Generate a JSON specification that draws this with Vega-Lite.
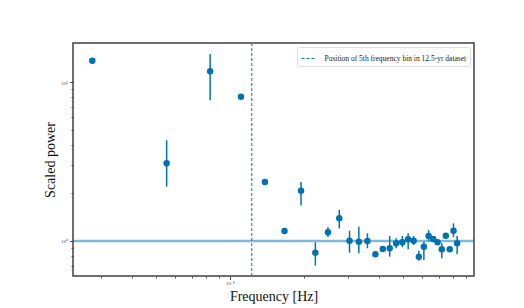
{
  "$schema": "https://vega.github.io/schema/vega-lite/v6.json",
  "autosize": {"type": "none"},
  "padding": {"left": 73, "top": 43, "right": 50, "bottom": 32},
  "width": 401,
  "height": 233,
  "background": "white",
  "config": {
    "view": {"stroke": "#404040", "strokeWidth": 1.5},
    "axis": {"labelFont": "Liberation Serif", "titleFont": "Liberation Serif", "grid": false, "domain": false, "tickColor": "#333", "labelColor": "#444", "titleColor": "#111", "titleFontWeight": "normal"},
    "legend": {"labelFont": "Liberation Serif"}
  },
  "datasets": {
    "pts": [
      {"f": 2.77e-9, "p": 13.6, "lo": 13.3, "hi": 13.9},
      {"f": 5.54e-9, "p": 3.08, "lo": 2.2, "hi": 4.3},
      {"f": 8.31e-9, "p": 11.7, "lo": 7.67, "hi": 15.0},
      {"f": 1.108e-8, "p": 8.09, "lo": 7.9, "hi": 8.3},
      {"f": 1.385e-8, "p": 2.35, "lo": 2.3, "hi": 2.4},
      {"f": 1.662e-8, "p": 1.156, "lo": 1.12, "hi": 1.19},
      {"f": 1.939e-8, "p": 2.07, "lo": 1.68, "hi": 2.35},
      {"f": 2.216e-8, "p": 0.844, "lo": 0.7, "hi": 0.981},
      {"f": 2.493e-8, "p": 1.134, "lo": 1.06, "hi": 1.22},
      {"f": 2.77e-8, "p": 1.39, "lo": 1.2, "hi": 1.57},
      {"f": 3.047e-8, "p": 1.004, "lo": 0.844, "hi": 1.16},
      {"f": 3.324e-8, "p": 0.99, "lo": 0.837, "hi": 1.23},
      {"f": 3.601e-8, "p": 0.998, "lo": 0.9, "hi": 1.118},
      {"f": 3.878e-8, "p": 0.825, "lo": 0.81, "hi": 0.84},
      {"f": 4.155e-8, "p": 0.891, "lo": 0.87, "hi": 0.91},
      {"f": 4.432e-8, "p": 0.9, "lo": 0.797, "hi": 1.075},
      {"f": 4.709e-8, "p": 0.967, "lo": 0.9, "hi": 1.04},
      {"f": 4.986e-8, "p": 0.981, "lo": 0.913, "hi": 1.075},
      {"f": 5.263e-8, "p": 1.025, "lo": 0.887, "hi": 1.118},
      {"f": 5.54e-8, "p": 1.004, "lo": 0.944, "hi": 1.075},
      {"f": 5.817e-8, "p": 0.797, "lo": 0.752, "hi": 0.869},
      {"f": 6.094e-8, "p": 0.921, "lo": 0.759, "hi": 0.99},
      {"f": 6.371e-8, "p": 1.075, "lo": 1.0, "hi": 1.17},
      {"f": 6.648e-8, "p": 1.03, "lo": 1.0, "hi": 1.06},
      {"f": 6.925e-8, "p": 0.981, "lo": 0.95, "hi": 1.01},
      {"f": 7.202e-8, "p": 0.887, "lo": 0.778, "hi": 0.967},
      {"f": 7.479e-8, "p": 1.08, "lo": 1.05, "hi": 1.11},
      {"f": 7.756e-8, "p": 0.887, "lo": 0.86, "hi": 0.91},
      {"f": 8.033e-8, "p": 1.16, "lo": 1.055, "hi": 1.29},
      {"f": 8.31e-8, "p": 0.967, "lo": 0.825, "hi": 1.075}
    ],
    "vline": [{"f": 1.225e-8, "label": "Position of 5th frequency bin in 12.5-yr dataset"}]
  },
  "resolve": {"axis": {"x": "independent", "y": "independent"}},
  "layer": [
    {
      "data": {"values": [{"one": 1}]},
      "mark": {"type": "rule", "color": "#0072b2", "opacity": 0.5, "strokeWidth": 2.4},
      "encoding": {
        "y": {"field": "one", "type": "quantitative", "scale": {"type": "log", "domain": [0.602, 17.6], "nice": false}, "axis": null}
      }
    },
    {
      "data": {"name": "vline"},
      "mark": {"type": "rule", "strokeDash": [3, 2], "strokeWidth": 1},
      "encoding": {
        "x": {"field": "f", "type": "quantitative", "scale": {"type": "log", "domain": [2.314e-9, 9.725e-8], "nice": false}, "axis": null},
        "color": {"field": "label", "type": "nominal", "scale": {"range": ["#0a75b8"]},
          "legend": {"title": null, "orient": "top-right", "offset": 4, "padding": 3.5, "fillColor": "white", "strokeColor": "#dddddd", "cornerRadius": 2,
            "symbolType": "stroke", "symbolSize": 200, "symbolStrokeWidth": 1.2, "symbolDash": [3, 2], "labelFontSize": 7.5, "labelColor": "#222", "labelOffset": 8}}
      }
    },
    {
      "data": {"name": "pts"},
      "mark": {"type": "rule", "color": "#0072b2", "strokeWidth": 1.5},
      "encoding": {
        "x": {"field": "f", "type": "quantitative", "scale": {"type": "log", "domain": [2.314e-9, 9.725e-8], "nice": false},
          "axis": {"orient": "bottom", "values": [3e-9, 4e-9, 5e-9, 6e-9, 7e-9, 8e-9, 9e-9, 2e-8, 3e-8, 4e-8, 5e-8, 6e-8, 7e-8, 8e-8, 9e-8], "labels": false, "tickSize": 2, "tickWidth": 0.8, "title": null}},
        "y": {"field": "lo", "type": "quantitative", "scale": {"type": "log", "domain": [0.602, 17.6], "nice": false},
          "axis": {"orient": "left", "values": [0.7, 0.8, 0.9, 2, 3, 4, 5, 6, 7, 8, 9], "labels": false, "tickSize": 2, "tickWidth": 0.8, "title": null}},
        "y2": {"field": "hi"}
      }
    },
    {
      "data": {"name": "pts"},
      "mark": {"type": "point", "filled": true, "shape": "circle", "size": 42, "color": "#0072b2", "opacity": 1},
      "encoding": {
        "x": {"field": "f", "type": "quantitative", "scale": {"type": "log", "domain": [2.314e-9, 9.725e-8], "nice": false},
          "axis": {"orient": "bottom", "values": [1e-8], "labelExpr": "'10⁻⁸'", "labelFontSize": 5, "tickSize": 3.5, "tickWidth": 0.9, "labelPadding": 1, "title": "Frequency [Hz]", "titleFontSize": 14, "titlePadding": 4}},
        "y": {"field": "p", "type": "quantitative", "scale": {"type": "log", "domain": [0.602, 17.6], "nice": false},
          "axis": {"orient": "left", "values": [1, 10], "labelExpr": "datum.value == 1 ? '10⁰' : '10¹'", "labelFontSize": 5, "tickSize": 3.5, "tickWidth": 0.9, "labelPadding": 2, "title": "Scaled power", "titleFontSize": 14, "titlePadding": 3}}
      }
    }
  ]
}
